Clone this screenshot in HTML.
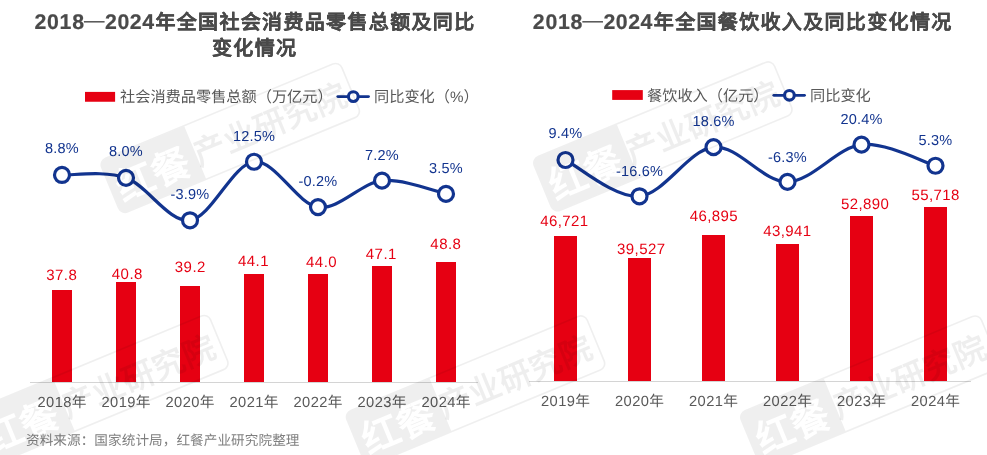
<!DOCTYPE html>
<html lang="zh-CN"><head><meta charset="utf-8"><title>2018—2024年全国社会消费品零售总额及餐饮收入</title>
<style>
html,body{margin:0;padding:0;background:#fff;}
body{width:987px;height:455px;overflow:hidden;font-family:"Liberation Sans", sans-serif;}
svg{display:block;font-family:"Liberation Sans", sans-serif;text-rendering:geometricPrecision;will-change:transform;}
</style></head><body>
<svg width="987" height="455" viewBox="0 0 987 455">
<rect width="987" height="455" fill="#fff"/>
<text x="34.4" y="29.2" font-weight="bold" fill="#4a4a4a" stroke="#4a4a4a" stroke-width="0.2"><tspan font-size="21.3" letter-spacing="0.75">2018</tspan><tspan x="84.0" dy="-2.4" font-size="20.4" font-weight="normal">—</tspan><tspan x="105.1" dy="2.4" font-size="21.3" letter-spacing="0.52">2024</tspan><tspan x="155.4" font-size="20.0" letter-spacing="1.34">年全国社会消费品零售总额及同比</tspan></text>
<text x="212.0" y="54.6" font-weight="bold" fill="#4a4a4a" stroke="#4a4a4a" stroke-width="0.2"><tspan font-size="20.0" letter-spacing="1.34">变化情况</tspan></text>
<text x="532.8" y="29.2" font-weight="bold" fill="#4a4a4a" stroke="#4a4a4a" stroke-width="0.2"><tspan font-size="21.3" letter-spacing="0.75">2018</tspan><tspan x="582.4" dy="-2.4" font-size="20.4" font-weight="normal">—</tspan><tspan x="603.5" dy="2.4" font-size="21.3" letter-spacing="0.52">2024</tspan><tspan x="653.8" font-size="20.0" letter-spacing="1.34">年全国餐饮收入及同比变化情况</tspan></text>
<rect x="85" y="91.9" width="30.1" height="9.85" fill="#e60012"/>
<text x="120" y="102.3" font-size="15.2" fill="#595959">社会消费品零售总额（万亿元）</text>
<line x1="337.8" y1="96.6" x2="368.5" y2="96.6" stroke="#12348f" stroke-width="2.8" stroke-linecap="round"/><circle cx="353.3" cy="96.6" r="4.85" fill="#fff" stroke="#12348f" stroke-width="3.1"/>
<text x="374" y="102.3" font-size="15.2" fill="#595959">同比变化（%）</text>
<rect x="612.2" y="90.1" width="30.6" height="9.8" fill="#e60012"/>
<text x="647" y="100.6" font-size="15.2" fill="#595959">餐饮收入（亿元）</text>
<line x1="773.8" y1="95.3" x2="804.5" y2="95.3" stroke="#12348f" stroke-width="2.8" stroke-linecap="round"/><circle cx="789.4" cy="95.3" r="4.85" fill="#fff" stroke="#12348f" stroke-width="3.1"/>
<text x="810" y="100.6" font-size="15.2" fill="#595959">同比变化</text>
<rect x="30" y="382" width="448" height="1" fill="#d4d4d4"/>
<rect x="529" y="381" width="442" height="1" fill="#d4d4d4"/>
<rect x="52" y="290" width="20" height="92" fill="#e60012"/>
<rect x="116" y="282" width="20" height="100" fill="#e60012"/>
<rect x="180" y="286" width="20" height="96" fill="#e60012"/>
<rect x="244" y="274" width="20" height="108" fill="#e60012"/>
<rect x="308" y="274" width="20" height="108" fill="#e60012"/>
<rect x="372" y="266" width="20" height="116" fill="#e60012"/>
<rect x="436" y="262" width="20" height="120" fill="#e60012"/>
<rect x="554" y="236" width="23" height="145" fill="#e60012"/>
<rect x="628" y="258" width="23" height="123" fill="#e60012"/>
<rect x="702" y="235" width="23" height="146" fill="#e60012"/>
<rect x="776" y="244" width="23" height="137" fill="#e60012"/>
<rect x="850" y="216" width="23" height="165" fill="#e60012"/>
<rect x="924" y="207" width="23" height="174" fill="#e60012"/>
<text x="61.75" y="280.1" font-size="15" fill="#e60012" text-anchor="middle" letter-spacing="0.45">37.8</text>
<text x="127.3" y="278.7" font-size="15" fill="#e60012" text-anchor="middle" letter-spacing="0.45">40.8</text>
<text x="190.29999999999998" y="272.2" font-size="15" fill="#e60012" text-anchor="middle" letter-spacing="0.45">39.2</text>
<text x="253.5" y="265.8" font-size="15" fill="#e60012" text-anchor="middle" letter-spacing="0.45">44.1</text>
<text x="321.55" y="267" font-size="15" fill="#e60012" text-anchor="middle" letter-spacing="0.45">44.0</text>
<text x="381.3" y="259.1" font-size="15" fill="#e60012" text-anchor="middle" letter-spacing="0.45">47.1</text>
<text x="445.84999999999997" y="248.7" font-size="15" fill="#e60012" text-anchor="middle" letter-spacing="0.45">48.8</text>
<text x="564.35" y="225.9" font-size="15" fill="#e60012" text-anchor="middle" letter-spacing="0.4">46,721</text>
<text x="641.25" y="254.2" font-size="15" fill="#e60012" text-anchor="middle" letter-spacing="0.4">39,527</text>
<text x="713.85" y="221" font-size="15" fill="#e60012" text-anchor="middle" letter-spacing="0.4">46,895</text>
<text x="787.35" y="235.8" font-size="15" fill="#e60012" text-anchor="middle" letter-spacing="0.4">43,941</text>
<text x="865.1500000000001" y="209" font-size="15" fill="#e60012" text-anchor="middle" letter-spacing="0.4">52,890</text>
<text x="935.5500000000001" y="200.1" font-size="15" fill="#e60012" text-anchor="middle" letter-spacing="0.4">55,718</text>
<path d="M62.00,174.97 C72.67,175.45 104.67,170.27 126.00,177.83 C147.33,185.38 168.67,222.96 190.00,220.29 C211.33,217.61 232.67,163.97 254.00,161.77 C275.33,159.57 296.67,203.93 318.00,207.08 C339.33,210.24 360.67,182.88 382.00,180.68 C403.33,178.48 435.33,191.68 446.00,193.88" fill="none" stroke="#12348f" stroke-width="3.2"/>
<path d="M565.50,160.02 C577.83,166.06 614.83,198.42 639.50,196.28 C664.17,194.14 688.83,149.59 713.50,147.19 C738.17,144.80 762.83,182.33 787.50,181.92 C812.17,181.50 836.83,147.38 861.50,144.68 C886.17,141.99 923.17,162.23 935.50,165.74" fill="none" stroke="#12348f" stroke-width="3.2"/>
<circle cx="62.00" cy="174.97" r="7.5" fill="#fff" stroke="#12348f" stroke-width="3.2"/>
<circle cx="126.00" cy="177.83" r="7.5" fill="#fff" stroke="#12348f" stroke-width="3.2"/>
<circle cx="190.00" cy="220.29" r="7.5" fill="#fff" stroke="#12348f" stroke-width="3.2"/>
<circle cx="254.00" cy="161.77" r="7.5" fill="#fff" stroke="#12348f" stroke-width="3.2"/>
<circle cx="318.00" cy="207.08" r="7.5" fill="#fff" stroke="#12348f" stroke-width="3.2"/>
<circle cx="382.00" cy="180.68" r="7.5" fill="#fff" stroke="#12348f" stroke-width="3.2"/>
<circle cx="446.00" cy="193.88" r="7.5" fill="#fff" stroke="#12348f" stroke-width="3.2"/>
<circle cx="565.50" cy="160.02" r="7.5" fill="#fff" stroke="#12348f" stroke-width="3.2"/>
<circle cx="639.50" cy="196.28" r="7.5" fill="#fff" stroke="#12348f" stroke-width="3.2"/>
<circle cx="713.50" cy="147.19" r="7.5" fill="#fff" stroke="#12348f" stroke-width="3.2"/>
<circle cx="787.50" cy="181.92" r="7.5" fill="#fff" stroke="#12348f" stroke-width="3.2"/>
<circle cx="861.50" cy="144.68" r="7.5" fill="#fff" stroke="#12348f" stroke-width="3.2"/>
<circle cx="935.50" cy="165.74" r="7.5" fill="#fff" stroke="#12348f" stroke-width="3.2"/>
<text x="62" y="152.5" font-size="14.5" fill="#12348f" text-anchor="middle" letter-spacing="0.2">8.8%</text>
<text x="126" y="156.4" font-size="14.5" fill="#12348f" text-anchor="middle" letter-spacing="0.2">8.0%</text>
<text x="190" y="199.1" font-size="14.5" fill="#12348f" text-anchor="middle" letter-spacing="0.2">-3.9%</text>
<text x="254" y="141" font-size="14.5" fill="#12348f" text-anchor="middle" letter-spacing="0.2">12.5%</text>
<text x="318" y="186" font-size="14.5" fill="#12348f" text-anchor="middle" letter-spacing="0.2">-0.2%</text>
<text x="382" y="160" font-size="14.5" fill="#12348f" text-anchor="middle" letter-spacing="0.2">7.2%</text>
<text x="446" y="173" font-size="14.5" fill="#12348f" text-anchor="middle" letter-spacing="0.2">3.5%</text>
<text x="565.5" y="137.5" font-size="14.5" fill="#12348f" text-anchor="middle" letter-spacing="0.2">9.4%</text>
<text x="639.5" y="175.5" font-size="14.5" fill="#12348f" text-anchor="middle" letter-spacing="0.2">-16.6%</text>
<text x="713.5" y="126.4" font-size="14.5" fill="#12348f" text-anchor="middle" letter-spacing="0.2">18.6%</text>
<text x="787.5" y="162.2" font-size="14.5" fill="#12348f" text-anchor="middle" letter-spacing="0.2">-6.3%</text>
<text x="861.5" y="123.5" font-size="14.5" fill="#12348f" text-anchor="middle" letter-spacing="0.2">20.4%</text>
<text x="935.5" y="144.6" font-size="14.5" fill="#12348f" text-anchor="middle" letter-spacing="0.2">5.3%</text>
<text x="62.2" y="406.6" font-size="14.7" fill="#595959" text-anchor="middle" letter-spacing="0.4">2018年</text>
<text x="126.2" y="406.6" font-size="14.7" fill="#595959" text-anchor="middle" letter-spacing="0.4">2019年</text>
<text x="190.2" y="406.6" font-size="14.7" fill="#595959" text-anchor="middle" letter-spacing="0.4">2020年</text>
<text x="254.2" y="406.6" font-size="14.7" fill="#595959" text-anchor="middle" letter-spacing="0.4">2021年</text>
<text x="318.2" y="406.6" font-size="14.7" fill="#595959" text-anchor="middle" letter-spacing="0.4">2022年</text>
<text x="382.2" y="406.6" font-size="14.7" fill="#595959" text-anchor="middle" letter-spacing="0.4">2023年</text>
<text x="446.2" y="406.6" font-size="14.7" fill="#595959" text-anchor="middle" letter-spacing="0.4">2024年</text>
<text x="565.7" y="406.2" font-size="14.7" fill="#595959" text-anchor="middle" letter-spacing="0.4">2019年</text>
<text x="639.7" y="406.2" font-size="14.7" fill="#595959" text-anchor="middle" letter-spacing="0.4">2020年</text>
<text x="713.7" y="406.2" font-size="14.7" fill="#595959" text-anchor="middle" letter-spacing="0.4">2021年</text>
<text x="787.7" y="406.2" font-size="14.7" fill="#595959" text-anchor="middle" letter-spacing="0.4">2022年</text>
<text x="861.7" y="406.2" font-size="14.7" fill="#595959" text-anchor="middle" letter-spacing="0.4">2023年</text>
<text x="935.7" y="406.2" font-size="14.7" fill="#595959" text-anchor="middle" letter-spacing="0.4">2024年</text>
<text x="26" y="445" font-size="13.6" fill="#7f7f7f" letter-spacing="0.08">资料来源：国家统计局，红餐产业研究院整理</text>
<defs><mask id="wm" maskUnits="userSpaceOnUse" x="-140" y="-40" width="280" height="80"><rect x="-140" y="-40" width="280" height="80" fill="#fff"/><text x="-85.5" y="18" font-size="38" font-weight="normal" fill="#000" stroke="#000" stroke-width="1.3" text-anchor="middle">红餐</text></mask></defs><g transform="translate(230.3,137.9) rotate(-22.5)"><g opacity="0.06"><path d="M-38,-29 H-123 A7,7 0 0 0 -130,-22 V22 A7,7 0 0 0 -123,29 H-38 Z" fill="#000" mask="url(#wm)"/><rect x="-130" y="-29" width="260" height="58" rx="7" fill="none" stroke="#000" stroke-width="1.7"/></g><text x="42" y="14" font-size="32" font-weight="bold" fill="#000" fill-opacity="0.065" text-anchor="middle" letter-spacing="0.6">产业研究院</text></g><g transform="translate(662.9,136.3) rotate(-22.5)"><g opacity="0.06"><path d="M-38,-29 H-123 A7,7 0 0 0 -130,-22 V22 A7,7 0 0 0 -123,29 H-38 Z" fill="#000" mask="url(#wm)"/><rect x="-130" y="-29" width="260" height="58" rx="7" fill="none" stroke="#000" stroke-width="1.7"/></g><text x="42" y="14" font-size="32" font-weight="bold" fill="#000" fill-opacity="0.065" text-anchor="middle" letter-spacing="0.6">产业研究院</text></g><g transform="translate(98.9,389.9) rotate(-22.5)"><g opacity="0.06"><path d="M-38,-29 H-123 A7,7 0 0 0 -130,-22 V22 A7,7 0 0 0 -123,29 H-38 Z" fill="#000" mask="url(#wm)"/><rect x="-130" y="-29" width="260" height="58" rx="7" fill="none" stroke="#000" stroke-width="1.7"/></g><text x="42" y="14" font-size="32" font-weight="bold" fill="#000" fill-opacity="0.065" text-anchor="middle" letter-spacing="0.6">产业研究院</text></g><g transform="translate(475.6,390.3) rotate(-22.5)"><g opacity="0.06"><path d="M-38,-29 H-123 A7,7 0 0 0 -130,-22 V22 A7,7 0 0 0 -123,29 H-38 Z" fill="#000" mask="url(#wm)"/><rect x="-130" y="-29" width="260" height="58" rx="7" fill="none" stroke="#000" stroke-width="1.7"/></g><text x="42" y="14" font-size="32" font-weight="bold" fill="#000" fill-opacity="0.065" text-anchor="middle" letter-spacing="0.6">产业研究院</text></g><g transform="translate(869.9,390.4) rotate(-22.5)"><g opacity="0.06"><path d="M-38,-29 H-123 A7,7 0 0 0 -130,-22 V22 A7,7 0 0 0 -123,29 H-38 Z" fill="#000" mask="url(#wm)"/><rect x="-130" y="-29" width="260" height="58" rx="7" fill="none" stroke="#000" stroke-width="1.7"/></g><text x="42" y="14" font-size="32" font-weight="bold" fill="#000" fill-opacity="0.065" text-anchor="middle" letter-spacing="0.6">产业研究院</text></g>
</svg>
</body></html>
